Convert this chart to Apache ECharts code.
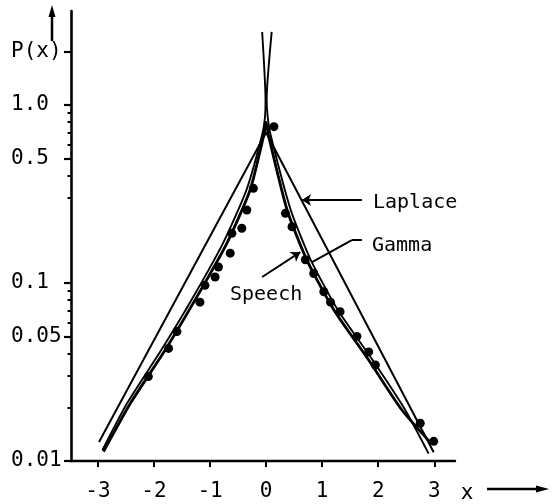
<!DOCTYPE html>
<html>
<head>
<meta charset="utf-8">
<script src="https://cdn.jsdelivr.net/npm/echarts@6/dist/echarts.min.js"></script>
<style>
  html, body { margin: 0; padding: 0; background: #fff; }
  #chart { width: 553px; height: 504px; }
</style>
</head>
<body>
<div id="chart"></div>
<script>
// Axis ticks and labels
const xTickValues = [-3, -2, -1, 0, 1, 2, 3];
const yTickValues = [0.01, 0.05, 0.1, 0.5, 1, 2];
const yTickLabels = ['0.01', '0.05', '0.1', '0.5', '1.0', 'P(x)'];
const yMinorTicks = [0.02, 0.03, 0.04, 0.06, 0.07, 0.08, 0.09, 0.3, 0.4, 0.6, 0.7, 0.8, 0.9];

// Laplace density (straight in log scale)
const laplaceX = [-2.98, 0, 2.99];
const laplaceP = [0.0128, 0.70, 0.0112];

// Gamma density, left and right branches (rising steeply near x = 0)
const gammaLeftX = [-2.92, -2.48, -1.87, -1.30, -0.77, -0.35, -0.07, -0.02, -0.01, -0.07];
const gammaLeftP = [0.0115, 0.0211, 0.042, 0.0835, 0.167, 0.333, 0.68, 0.85, 1.07, 2.57];
const gammaRightX = [0.10, 0.01, 0.03, 0.08, 0.44, 0.80, 1.28, 1.90, 2.48, 2.90];
const gammaRightP = [2.57, 1.07, 0.85, 0.68, 0.257, 0.134, 0.0705, 0.0369, 0.0194, 0.0110];

// Speech: smoothed curve and measured points
const speechCurveX = [-2.90, -2.42, -1.80, -1.235, -0.70, -0.285, -0.04, 0, 0.04, 0.375, 0.73, 1.21, 1.83, 2.42, 2.95];
const speechCurveP = [0.0113, 0.0211, 0.042, 0.0835, 0.167, 0.333, 0.68, 0.80, 0.68, 0.257, 0.134, 0.0705, 0.0369, 0.0194, 0.0125];
const speechX = [-2.10, -1.74, -1.59, -1.18, -1.09, -0.91, -0.85, -0.64, -0.61, -0.433, -0.344, -0.226,
                 0.14, 0.345, 0.463, 0.70, 0.85, 1.03, 1.15, 1.32, 1.62, 1.83, 1.95, 2.75, 2.99];
const speechP = [0.0298, 0.0429, 0.0533, 0.078, 0.097, 0.108, 0.123, 0.147, 0.190, 0.203, 0.257, 0.340,
                 0.755, 0.246, 0.207, 0.135, 0.113, 0.0892, 0.078, 0.069, 0.0501, 0.041, 0.0346, 0.0163, 0.0129];

// Leader lines from the curve names to their curves
const laplaceLeader = [[1.71, 0.292], [0.64, 0.292]];
const gammaLeader = [[1.71, 0.174], [1.53, 0.174], [0.82, 0.131]];
const speechLeader = [[-0.07, 0.108], [0.61, 0.149]];

const zip = (xs, ys) => xs.map((x, i) => [x, ys[i]]);
const FONT = 'DejaVu Sans Mono';
const INK = '#000';

const chart = echarts.init(document.getElementById('chart'), null, { renderer: 'canvas' });

function leaderSeries(name, pts, arrow) {
  const segs = [];
  for (let i = 0; i < pts.length - 1; i++) {
    const last = i === pts.length - 2;
    segs.push([
      { coord: pts[i], symbol: 'none' },
      { coord: pts[i + 1], symbol: (arrow && last) ? 'arrow' : 'none', symbolSize: 9 }
    ]);
  }
  return {
    name: name, type: 'line', data: [], silent: true,
    markLine: {
      silent: true, animation: false,
      label: { show: false },
      lineStyle: { color: INK, width: 2, type: 'solid' },
      emphasis: { disabled: true },
      data: segs
    }
  };
}

const option = {
  animation: false,
  backgroundColor: '#fff',
  grid: { left: 71, right: 98, top: 11, bottom: 43 },
  xAxis: {
    type: 'value', min: -3.48, max: 3.37,
    axisLine: { onZero: false, lineStyle: { color: INK, width: 2.4 } },
    axisTick: { show: true, inside: false, length: 6, customValues: xTickValues, lineStyle: { color: INK, width: 2 } },
    axisLabel: {
      customValues: xTickValues, margin: 20, color: INK, fontFamily: FONT, fontSize: 21,
      formatter: v => String(Math.round(v))
    },
    splitLine: { show: false }
  },
  yAxis: [
    {
      type: 'log', logBase: 10, min: 0.01, max: 3.37, position: 'left',
      axisLine: { show: true, onZero: false, lineStyle: { color: INK, width: 2.6 } },
      axisTick: { show: true, inside: false, length: 7, customValues: yTickValues, lineStyle: { color: INK, width: 2.2 } },
      axisLabel: {
        customValues: yTickValues, margin: 60, align: 'left', color: INK, fontFamily: FONT, fontSize: 21,
        formatter: v => {
          const i = yTickValues.findIndex(t => Math.abs(Math.log10(t) - Math.log10(v)) < 1e-6);
          return i >= 0 ? yTickLabels[i] : '';
        }
      },
      splitLine: { show: false }
    },
    {
      type: 'log', logBase: 10, min: 0.01, max: 3.37, position: 'left',
      axisLine: { show: false, onZero: false },
      axisTick: { show: true, inside: false, length: 3.5, customValues: yMinorTicks, lineStyle: { color: INK, width: 2 } },
      axisLabel: { show: false },
      splitLine: { show: false }
    }
  ],
  series: [
    {
      name: 'Laplace', type: 'line', data: zip(laplaceX, laplaceP), symbol: 'none',
      lineStyle: { color: INK, width: 2 }, silent: true
    },
    {
      name: 'Gamma', type: 'line', data: zip(gammaLeftX, gammaLeftP), symbol: 'none', smooth: 0.2,
      lineStyle: { color: INK, width: 1.9 }, silent: true
    },
    {
      name: 'Gamma', type: 'line', data: zip(gammaRightX, gammaRightP), symbol: 'none', smooth: 0.2,
      lineStyle: { color: INK, width: 1.9 }, silent: true
    },
    {
      name: 'Speech curve', type: 'line', data: zip(speechCurveX, speechCurveP), symbol: 'none', smooth: 0.2,
      lineStyle: { color: INK, width: 2.8 }, silent: true
    },
    {
      name: 'Speech', type: 'scatter', data: zip(speechX, speechP), symbol: 'circle', symbolSize: 9,
      itemStyle: { color: INK, opacity: 1 }, silent: true
    },
    leaderSeries('Laplace leader', laplaceLeader, true),
    leaderSeries('Gamma leader', gammaLeader, false),
    leaderSeries('Speech leader', speechLeader, true)
  ],
  graphic: [
    // arrow on the vertical axis title
    { type: 'line', shape: { x1: 52, y1: 41, x2: 52, y2: 14 }, style: { stroke: INK, lineWidth: 2.5 } },
    { type: 'polygon', shape: { points: [[52, 5], [48.5, 17], [55.5, 17]] }, style: { fill: INK } },
    // horizontal axis title with arrow
    { type: 'text', style: { x: 467, y: 494, text: 'x', font: '21px ' + FONT, fill: INK, align: 'center', verticalAlign: 'middle' } },
    { type: 'line', shape: { x1: 487, y1: 489, x2: 540, y2: 489 }, style: { stroke: INK, lineWidth: 2.5 } },
    { type: 'polygon', shape: { points: [[549, 489], [536, 485.5], [536, 492.5]] }, style: { fill: INK } },
    // curve names
    { type: 'text', style: { x: 373, y: 203, text: 'Laplace', font: '20px ' + FONT, fill: INK, align: 'left', verticalAlign: 'middle' } },
    { type: 'text', style: { x: 372, y: 246, text: 'Gamma', font: '20px ' + FONT, fill: INK, align: 'left', verticalAlign: 'middle' } },
    { type: 'text', style: { x: 230, y: 295, text: 'Speech', font: '20px ' + FONT, fill: INK, align: 'left', verticalAlign: 'middle' } }
  ]
};

chart.setOption(option);
</script>
</body>
</html>
